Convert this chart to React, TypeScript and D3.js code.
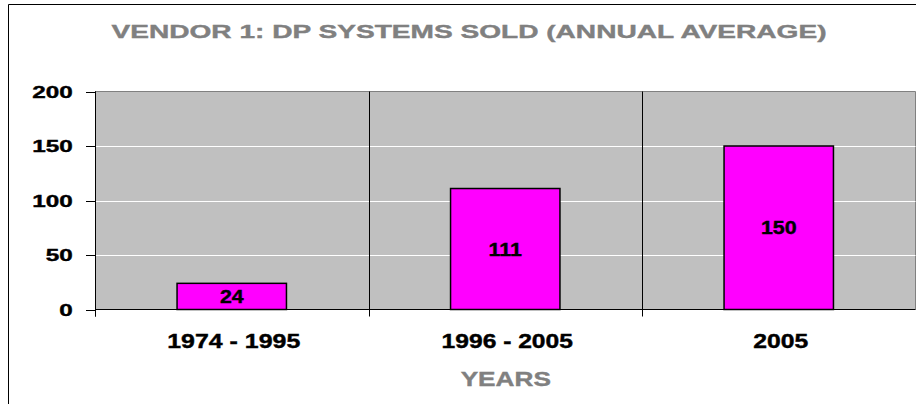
import React from "react";
import * as d3 from "d3";

const categories = ["1974 - 1995", "1996 - 2005", "2005"];
const values = [24, 111, 150];
const yTicks = [0, 50, 100, 150, 200];
const title = "VENDOR 1: DP SYSTEMS SOLD (ANNUAL AVERAGE)";
const xTitle = "YEARS";

// measured text widths (rendering stretched horizontally)
const catWidths = [133, 131.3, 55];
const valWidths = [23.7, 33.3, 35.7];

export default function App() {
  const W = 916, H = 404;
  const left = 95, right = 915.5, top = 91.5, bottom = 309.5;
  const x = d3.scaleBand<string>().domain(categories).range([left, right]).paddingInner(0).paddingOuter(0);
  const y = d3.scaleLinear().domain([0, 200]).range([bottom, top]);
  const bw = x.bandwidth() * 0.4;
  const font = "'Liberation Sans', Arial, sans-serif";
  const boundaries = [left, ...categories.map((c) => (x(c) as number) + x.bandwidth())];

  return (
    <svg width={W} height={H} style={{ position: "absolute", left: 0, top: 0 }} fontFamily={font}>
      <rect x={0} y={0} width={W} height={H} fill="#fff" />
      {/* chart area border */}
      <line x1={8.5} y1={4.5} x2={W + 2} y2={4.5} stroke="#000" strokeWidth={1} />
      <line x1={8.5} y1={4.5} x2={8.5} y2={H + 2} stroke="#000" strokeWidth={1} />
      {/* title */}
      <text x={469} y={38.3} textAnchor="middle" fontSize={18.5} fontWeight="bold" fill="#808080"
        stroke="#808080" strokeWidth={0.4}
        textLength={715} lengthAdjust="spacingAndGlyphs">{title}</text>
      {/* plot background */}
      <rect x={left} y={top} width={right - left} height={bottom - top} fill="#C0C0C0" />
      <line x1={left} y1={top} x2={right} y2={top} stroke="#808080" strokeWidth={1} />
      <line x1={right} y1={top} x2={right} y2={bottom} stroke="#808080" strokeWidth={1} />
      {/* gridlines */}
      {yTicks.filter((t) => t !== 0 && t !== 200).map((t) => (
        <line key={t} x1={left} x2={right} y1={Math.round(y(t)) + 0.5} y2={Math.round(y(t)) + 0.5} stroke="#fff" strokeWidth={1} />
      ))}
      {/* category dividers + ticks */}
      {boundaries.map((b, i) => (
        <line key={i} x1={Math.round(b) + 0.5} x2={Math.round(b) + 0.5} y1={i === 3 ? bottom : top} y2={316.5}
          stroke={i === 3 ? "#808080" : "#000"} strokeWidth={1} />
      ))}
      {/* bars */}
      {categories.map((c, i) => {
        const cx = (x(c) as number) + x.bandwidth() / 2;
        return (
          <g key={c}>
            <rect x={cx - bw / 2} y={y(values[i])} width={bw} height={bottom - y(values[i])}
              fill="#FF00FF" stroke="#000" strokeWidth={1.5} />
            <text x={cx} y={(y(values[i]) + bottom) / 2 + 6.5} textAnchor="middle" fontSize={17.5} fontWeight="bold"
              fill="#000" stroke="#000" strokeWidth={0.4}
              textLength={valWidths[i]} lengthAdjust="spacingAndGlyphs">{values[i]}</text>
            <text x={cx + 2} y={348} textAnchor="middle" fontSize={19.5} fontWeight="bold" fill="#000"
              stroke="#000" strokeWidth={0.4}
              textLength={catWidths[i]} lengthAdjust="spacingAndGlyphs">{c}</text>
          </g>
        );
      })}
      {/* x axis line */}
      <line x1={left} x2={right} y1={bottom} y2={bottom} stroke="#000" strokeWidth={1} />
      {/* y axis */}
      <line x1={left + 0.5} x2={left + 0.5} y1={top} y2={316.5} stroke="#000" strokeWidth={1} />
      {yTicks.map((t) => (
        <g key={t}>
          <line x1={86} x2={left} y1={Math.round(y(t)) + 0.5} y2={Math.round(y(t)) + 0.5} stroke="#000" strokeWidth={1} />
          <text x={72.7} y={y(t) + 6.3} textAnchor="end" fontSize={17} fontWeight="bold" fill="#000"
            stroke="#000" strokeWidth={0.4}
            textLength={String(t).length * 13.5} lengthAdjust="spacingAndGlyphs">{t}</text>
        </g>
      ))}
      {/* x title */}
      <text x={505.8} y={385.7} textAnchor="middle" fontSize={20.5} fontWeight="bold" fill="#808080"
        stroke="#808080" strokeWidth={0.4}
        textLength={90.3} lengthAdjust="spacingAndGlyphs">{xTitle}</text>
    </svg>
  );
}
